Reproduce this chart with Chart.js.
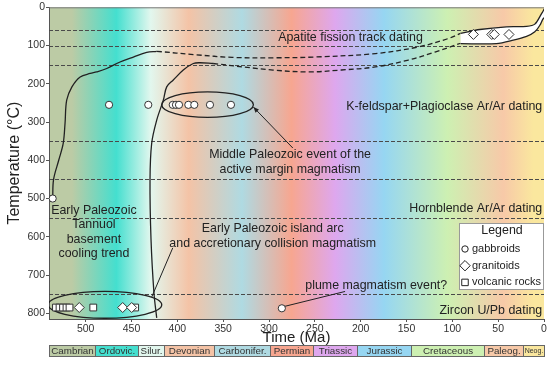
<!DOCTYPE html>
<html>
<head>
<meta charset="utf-8">
<title>Thermochronology of the Tannuol terrane</title>
<script src="https://cdn.jsdelivr.net/npm/chart.js@4.4.0/dist/chart.umd.min.js"></script>
<style>
    html, body { margin: 0; padding: 0; background: #fff; }
</style>
</head>
<body>
<canvas id="chart" width="550" height="365"></canvas>
<script>
// ── Geological time scale (Ma) ───────────────────────────
const periodNames = ["Cambrian", "Ordovic.", "Silur.", "Devonian", "Carbonifer.", "Permian", "Triassic", "Jurassic", "Cretaceous", "Paleog.", "Neog."];
const periodStart = [540, 490, 443, 415, 360, 299, 252, 204, 145, 66, 23];
const periodEnd = [490, 443, 415, 360, 299, 252, 204, 145, 66, 23, 0];

// ── Closure temperature boundaries (°C) ──────────────────
const closureTemps = [60, 100, 150, 350, 450, 550, 750];

// ── Samples ──────────────────────────────────────────────
const gabbroAge = [536, 474.5, 431.7, 405, 401.5, 398.2, 388, 381.5, 364.4, 341.5, 286];
const gabbroTemp = [500, 255, 255, 255, 255, 255, 255, 255, 255, 255, 787];

const graniteAge = [507, 459.6, 449.8, 77, 57, 54.2, 38.2];
const graniteTemp = [785, 785, 785, 71, 71, 71, 71];

const volcanicAge = [532.4, 528.5, 524.7, 520.9, 517.6, 491.7, 446];
const volcanicTemp = [785, 785, 785, 785, 785, 785, 785];

// ── Cooling trends ───────────────────────────────────────
const basementAge = [536, 535, 529.4, 524.5, 522.5, 520.7, 515, 506, 495, 488, 477, 462.5, 448, 433.4, 422.5];
const basementTemp = [500, 450, 400, 356, 303, 243, 208, 182, 173, 169, 160, 143, 130, 118, 115];

const basementDashAge = [422.5, 380, 340, 294, 250, 184, 137, 104.4, 91];
const basementDashTemp = [115, 124, 131, 132, 130, 121, 103.6, 81.7, 68];

const arcAge = [422.5, 425.5, 428.7, 429.8, 428, 422.5, 415.3, 411.6, 404.4, 393.5, 382.6, 375.3, 361];
const arcTemp = [812, 747, 608, 451, 356, 295, 243, 208, 190, 164, 147, 145, 147];

const arcDashAge = [361, 295.6, 257, 221, 184, 148, 119, 91];
const arcDashTemp = [147, 164, 169, 164, 156, 138, 117, 94];

// late cooling path (closed outline: upper edge, then lower edge back)
const pathAge = [91, 70, 41, 19, 10, 2.5, -2, -2, 1, 4.5, 10, 19, 33.5, 52, 91];
const pathTemp = [68, 58, 51, 50, 44, 16, 0, 24, 30, 47, 64, 76, 86, 95, 95];

// ── Event envelopes [older, younger] / [cooler, hotter] ──
const envelopeAge = [[541, 417], [417, 317]];
const envelopeTemp = [[743, 813], [221, 288]];

// ── Styling ──────────────────────────────────────────────
const periodColors = ["#bccba5", "#44dfcf", "#e2f7ee", "#f4c3a6", "#afdae2", "#f7a690", "#dea7ee", "#96d6f2", "#cdf0b2", "#f7c9a8", "#fae79e"];
const FONT = "'Liberation Sans', Arial, Helvetica, sans-serif";
const INK = "#222";

Chart.defaults.font.family = FONT;

const pts = (xs, ys) => xs.map((x, i) => ({ x, y: ys[i] }));

// annotation labels: [lines, age, temp, align]
const labels = [
    [["Apatite fission track dating"], 290, 79, "left"],
    [["K-feldspar+Plagioclase Ar/Ar dating"], 2, 259, "right"],
    [["Middle Paleozoic event of the", "active margin magmatism"], 277, 386, "center"],
    [["Early Paleozoic", "Tannuol", "basement", "cooling trend"], 491, 531, "center"],
    [["Early Paleozoic island arc", "and accretionary collision magmatism"], 296, 579, "center"],
    [["Hornblende Ar/Ar dating"], 2, 527, "right"],
    [["plume magmatism event?"], 183, 728, "center"],
    [["Zircon U/Pb dating"], 2, 794, "right"]
];

// leader lines: [fromAge, fromTemp, toAge, toTemp, arrowHead]
const leaders = [
    [274, 368, 317, 261, true],
    [405, 629, 428, 758, false],
    [217, 743, 283, 782, false]
];

function drawArrowHead(ctx, x1, y1, x2, y2) {
    const ang = Math.atan2(y2 - y1, x2 - x1);
    const len = 6;
    ctx.beginPath();
    ctx.moveTo(x2, y2);
    ctx.lineTo(x2 - len * Math.cos(ang - 0.4), y2 - len * Math.sin(ang - 0.4));
    ctx.lineTo(x2 - len * Math.cos(ang + 0.4), y2 - len * Math.sin(ang + 0.4));
    ctx.closePath();
    ctx.fill();
}

const periodBackground = {
    id: "periodBackground",
    beforeDraw(chart) {
        const { ctx, chartArea: a, scales: { x } } = chart;
        const grad = ctx.createLinearGradient(a.left, 0, a.right, 0);
        periodNames.forEach((_, i) => {
            const mid = (periodStart[i] + periodEnd[i]) / 2;
            const pos = (x.getPixelForValue(mid) - a.left) / (a.right - a.left);
            grad.addColorStop(Math.min(Math.max(pos, 0), 1), periodColors[i]);
        });
        ctx.save();
        ctx.fillStyle = grad;
        ctx.fillRect(a.left, a.top, a.right - a.left, a.bottom - a.top);
        ctx.restore();
    }
};

const guides = {
    id: "guides",
    beforeDatasetsDraw(chart) {
        const { ctx, chartArea: a, scales: { x, y } } = chart;
        ctx.save();
        ctx.beginPath();
        ctx.rect(a.left, a.top, a.right - a.left, a.bottom - a.top);
        ctx.clip();

        // closure temperature bands
        ctx.strokeStyle = "#4a4a4a";
        ctx.lineWidth = 1;
        ctx.setLineDash([4, 2]);
        closureTemps.forEach((t) => {
            const py = Math.round(y.getPixelForValue(t)) + 0.5;
            ctx.beginPath();
            ctx.moveTo(a.left, py);
            ctx.lineTo(a.right, py);
            ctx.stroke();
        });
        ctx.setLineDash([]);

        // event envelopes
        ctx.strokeStyle = INK;
        ctx.lineWidth = 1.3;
        envelopeAge.forEach((ages, i) => {
            const x1 = x.getPixelForValue(ages[0]);
            const x2 = x.getPixelForValue(ages[1]);
            const y1 = y.getPixelForValue(envelopeTemp[i][0]);
            const y2 = y.getPixelForValue(envelopeTemp[i][1]);
            ctx.beginPath();
            ctx.ellipse((x1 + x2) / 2, (y1 + y2) / 2, Math.abs(x2 - x1) / 2, Math.abs(y2 - y1) / 2, 0, 0, Math.PI * 2);
            ctx.stroke();
        });

        // leader lines
        ctx.fillStyle = INK;
        ctx.lineWidth = 1;
        leaders.forEach(([a1, t1, a2, t2, head]) => {
            const x1 = x.getPixelForValue(a1), y1 = y.getPixelForValue(t1);
            const x2 = x.getPixelForValue(a2), y2 = y.getPixelForValue(t2);
            ctx.beginPath();
            ctx.moveTo(x1, y1);
            ctx.lineTo(x2, y2);
            ctx.stroke();
            if (head) {
                drawArrowHead(ctx, x1, y1, x2, y2);
            }
        });
        ctx.restore();

        // top frame line
        ctx.save();
        ctx.strokeStyle = "#777";
        ctx.lineWidth = 1;
        ctx.beginPath();
        ctx.moveTo(a.left, a.top + 0.5);
        ctx.lineTo(a.right, a.top + 0.5);
        ctx.stroke();
        ctx.restore();
    },
    afterDatasetsDraw(chart) {
        const { ctx, scales: { x, y } } = chart;
        ctx.save();
        ctx.fillStyle = INK;
        ctx.font = `12.4px ${FONT}`;
        ctx.textBaseline = "middle";
        labels.forEach(([lines, age, temp, align]) => {
            ctx.textAlign = align;
            const px = x.getPixelForValue(age);
            const py = y.getPixelForValue(temp);
            lines.forEach((line, i) => {
                ctx.fillText(line, px, py + i * 14.5);
            });
        });
        ctx.restore();
    }
};

const boxLegend = {
    id: "boxLegend",
    afterDatasetsDraw(chart) {
        const { ctx, chartArea: a } = chart;
        const left = a.right - 85, top = 223, w = 84, h = 66;
        ctx.save();
        ctx.fillStyle = "#fff";
        ctx.fillRect(left, top, w, h);
        ctx.strokeStyle = "#999";
        ctx.lineWidth = 1;
        ctx.strokeRect(left + 0.5, top + 0.5, w, h);

        ctx.fillStyle = INK;
        ctx.font = `12.4px ${FONT}`;
        ctx.textBaseline = "middle";
        ctx.textAlign = "center";
        ctx.fillText("Legend", left + w / 2 + 1, top + 8);

        ctx.textAlign = "left";
        ctx.font = `11px ${FONT}`;
        const items = [["circle", 3.2, "gabbroids"], ["rectRot", 5.2, "granitoids"], ["rect", 4.6, "volcanic rocks"]];
        items.forEach(([style, r, text], i) => {
            const cy = top + 26 + i * 16.7;
            ctx.strokeStyle = INK;
            ctx.fillStyle = "#fff";
            ctx.lineWidth = 1;
            Chart.helpers.drawPoint(ctx, { pointStyle: style, radius: r, borderWidth: 1 }, left + 6, cy);
            ctx.fillStyle = INK;
            ctx.fillText(text, left + 13, cy);
        });
        ctx.restore();
    }
};

const timeScaleBar = {
    id: "timeScaleBar",
    afterDraw(chart) {
        const { ctx, scales: { x } } = chart;
        const top = 345, h = 11;
        ctx.save();
        ctx.textAlign = "center";
        ctx.textBaseline = "middle";
        periodNames.forEach((name, i) => {
            const x1 = Math.round(x.getPixelForValue(periodStart[i]));
            const x2 = Math.round(x.getPixelForValue(periodEnd[i]));
            ctx.fillStyle = periodColors[i];
            ctx.fillRect(x1, top, x2 - x1, h);
            ctx.strokeStyle = "#666";
            ctx.lineWidth = 1;
            ctx.strokeRect(x1 + 0.5, top + 0.5, x2 - x1, h);
            ctx.fillStyle = "#333";
            ctx.font = `${name === "Neog." ? 7 : 9.8}px ${FONT}`;
            ctx.fillText(name, (x1 + x2) / 2 + 0.5, top + h / 2 + 1);
        });
        ctx.restore();
    }
};

const pointStyleOf = (style, r) => ({
    type: "scatter",
    pointStyle: style,
    pointRadius: r,
    pointBackgroundColor: "#fff",
    pointBorderColor: "#333",
    pointBorderWidth: 1,
    showLine: false
});

const curveOf = (ages, temps, dashed) => ({
    type: "scatter",
    data: pts(ages, temps),
    showLine: true,
    borderColor: INK,
    borderWidth: 1.3,
    borderDash: dashed ? [5, 3] : [],
    pointRadius: 0,
    tension: 0.35,
    fill: false
});

new Chart(document.getElementById("chart"), {
    type: "scatter",
    data: {
        datasets: [
            { label: "gabbroids", data: pts(gabbroAge, gabbroTemp), ...pointStyleOf("circle", 3.6) },
            { label: "granitoids", data: pts(graniteAge, graniteTemp), ...pointStyleOf("rectRot", 5) },
            { label: "volcanic rocks", data: pts(volcanicAge, volcanicTemp), ...pointStyleOf("rect", 4.8) },
            {
                label: "cooling path",
                type: "scatter",
                data: pts(pathAge, pathTemp),
                showLine: true,
                borderColor: INK,
                borderWidth: 1.3,
                backgroundColor: "#fff",
                fill: "shape",
                pointRadius: 0,
                tension: 0.3
            },
            curveOf(basementAge, basementTemp, false),
            curveOf(basementDashAge, basementDashTemp, true),
            curveOf(arcAge, arcTemp, false),
            curveOf(arcDashAge, arcDashTemp, true)
        ]
    },
    options: {
        responsive: false,
        animation: false,
        layout: {
            padding: { top: 7, right: 6, bottom: 18, left: 0 }
        },
        plugins: {
            legend: { display: false },
            tooltip: { enabled: false }
        },
        scales: {
            x: {
                type: "linear",
                reverse: true,
                min: 0,
                max: 540,
                afterFit: (scale) => { scale.height = 28; },
                ticks: {
                    stepSize: 50,
                    includeBounds: false,
                    color: "#333",
                    padding: 1,
                    maxRotation: 0,
                    font: { size: 10.5 }
                },
                grid: {
                    drawOnChartArea: false,
                    tickLength: 3,
                    color: "#555"
                },
                border: { color: "#555" },
                title: {
                    display: true,
                    text: "Time (Ma)",
                    color: INK,
                    padding: { top: 0, bottom: 0 },
                    font: { size: 15 }
                }
            },
            y: {
                type: "linear",
                reverse: true,
                min: 0,
                max: 815,
                afterFit: (scale) => { scale.width = 49; },
                ticks: {
                    stepSize: 100,
                    includeBounds: false,
                    color: "#333",
                    padding: 1,
                    font: { size: 10.5 }
                },
                grid: {
                    drawOnChartArea: false,
                    tickLength: 3,
                    color: "#555"
                },
                border: { color: "#555" },
                title: {
                    display: true,
                    text: "Temperature (°C)",
                    color: INK,
                    padding: { top: 5, bottom: 0 },
                    font: { size: 16 }
                }
            }
        }
    },
    plugins: [periodBackground, guides, boxLegend, timeScaleBar]
});
</script>
</body>
</html>
